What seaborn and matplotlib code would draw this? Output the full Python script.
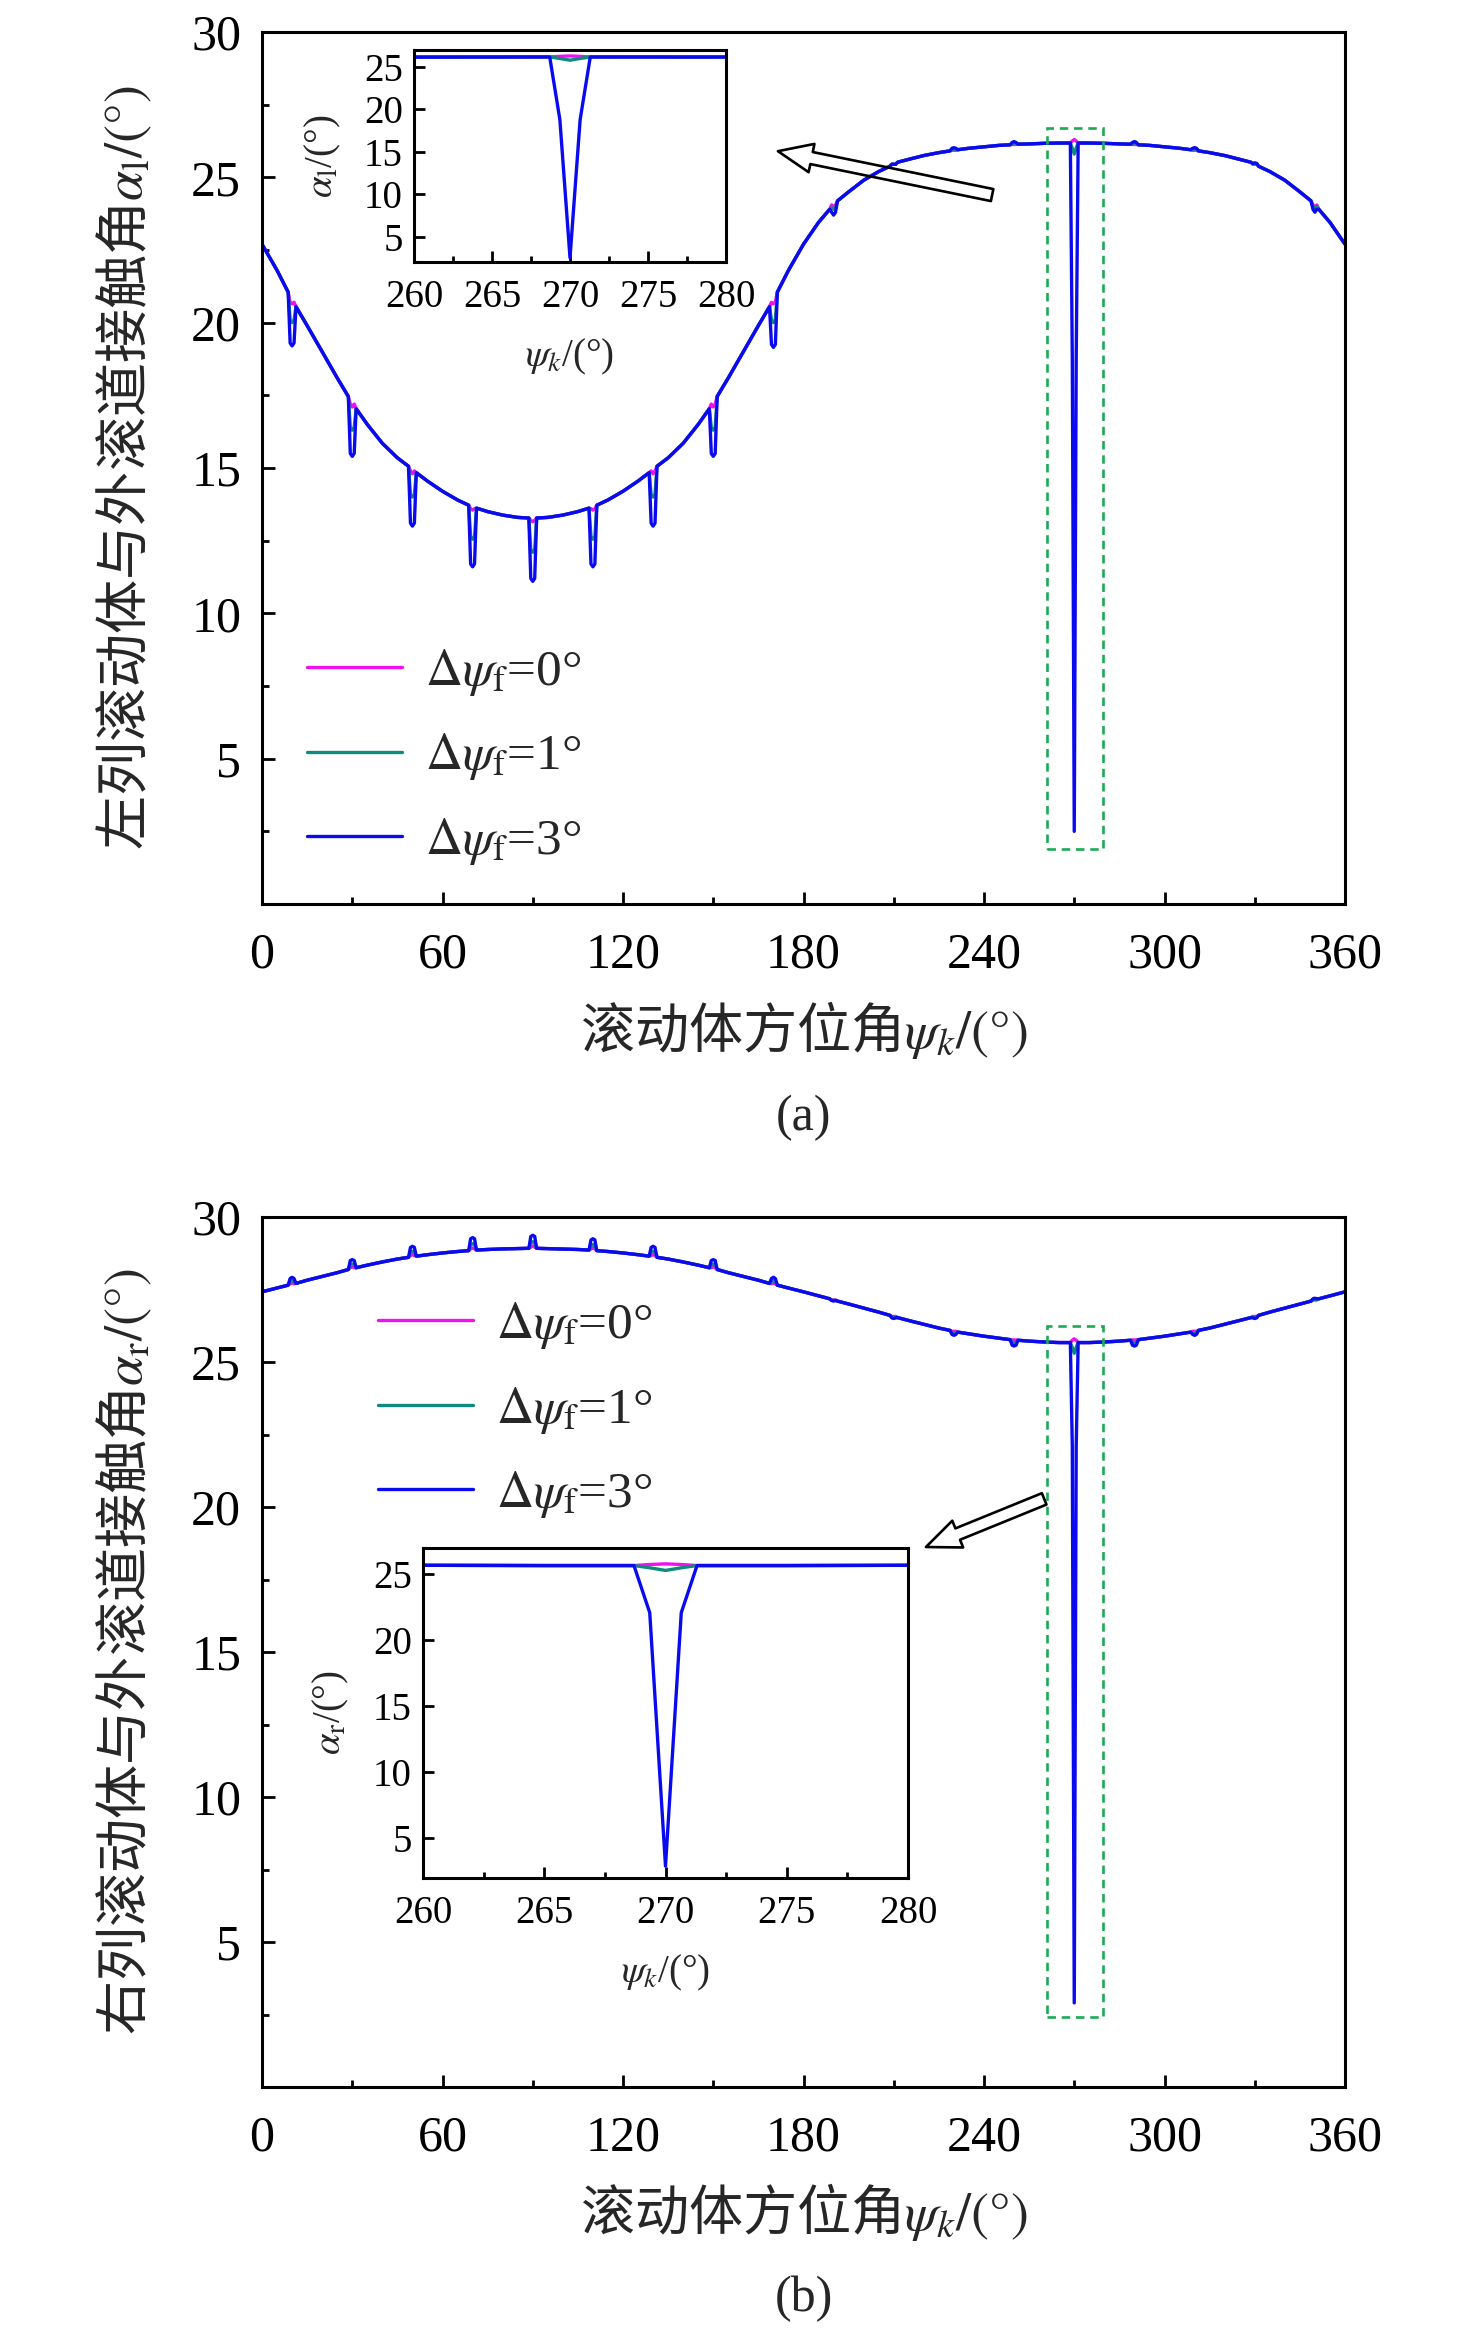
import matplotlib
matplotlib.use("Agg")
import matplotlib.pyplot as plt
import numpy as np
import pandas as pd
import seaborn as sns
from matplotlib.ticker import MultipleLocator
from matplotlib.patches import Rectangle

# ---------------- data ----------------
psi_grid = list(range(0, 365, 5))

alpha_l_base = [22.70, 21.80, 20.80, 19.90, 19.00, 18.10, 17.25, 16.50, 15.85, 15.35,
                14.95, 14.55, 14.20, 13.90, 13.67, 13.50, 13.38, 13.30, 13.28, 13.30,
                13.38, 13.50, 13.67, 13.90, 14.20, 14.55, 14.95, 15.35, 15.85, 16.50,
                17.25, 18.10, 19.00, 19.90, 20.80, 21.80, 22.70, 23.45, 24.05, 24.50,
                24.90, 25.20, 25.45, 25.62, 25.75, 25.85, 25.93, 26.00, 26.05, 26.10,
                26.13, 26.15, 26.17, 26.18, 26.18, 26.18, 26.17, 26.15, 26.13, 26.10,
                26.05, 26.00, 25.93, 25.85, 25.75, 25.62, 25.45, 25.20, 24.90, 24.50,
                24.05, 23.45, 22.70]

alpha_r_base = [27.42, 27.55, 27.68, 27.82, 27.95, 28.08, 28.22, 28.34, 28.45, 28.55,
                28.63, 28.70, 28.76, 28.81, 28.85, 28.88, 28.90, 28.91, 28.92, 28.91,
                28.90, 28.88, 28.85, 28.81, 28.76, 28.70, 28.63, 28.55, 28.45, 28.34,
                28.22, 28.08, 27.95, 27.82, 27.68, 27.55, 27.42, 27.28, 27.14, 27.00,
                26.86, 26.72, 26.57, 26.43, 26.30, 26.17, 26.06, 25.97, 25.89, 25.82,
                25.76, 25.72, 25.69, 25.67, 25.67, 25.67, 25.69, 25.72, 25.76, 25.82,
                25.89, 25.97, 26.06, 26.17, 26.30, 26.43, 26.57, 26.72, 26.86, 27.00,
                27.14, 27.28, 27.42]

# rolling-element positions where the contact angle jumps
roller_pos = [10, 30, 50, 70, 90, 110, 130, 150, 170,
              190, 210, 230, 250, 270, 290, 310, 330, 350]

# undisturbed curve just before / after each roller position
al_edge_lo = [21.05, 17.46, 15.06, 13.72, 13.28, 13.62, 14.84, 17.04, 20.55,
              23.90, 25.38, 25.91, 26.12, 26.18, 26.14, 25.95, 25.52, 24.19]
al_edge_hi = [20.55, 17.04, 14.84, 13.62, 13.28, 13.72, 15.06, 17.46, 21.05,
              24.19, 25.52, 25.95, 26.14, 26.18, 26.12, 25.91, 25.38, 23.90]
ar_edge_lo = [27.65, 28.19, 28.61, 28.84, 28.92, 28.86, 28.65, 28.25, 27.71,
              27.18, 26.61, 26.09, 25.77, 25.67, 25.75, 26.03, 26.53, 27.10]
ar_edge_hi = [27.71, 28.25, 28.65, 28.86, 28.92, 28.84, 28.61, 28.19, 27.65,
              27.10, 26.53, 26.03, 25.75, 25.67, 25.77, 26.09, 26.61, 27.18]

# left row: value at the roller position (tip) and next to it (flank)
al_tip_0 = [20.65, 17.10, 14.80, 13.55, 13.15, 13.55, 14.80, 17.10, 20.65,
            24.00, 25.45, 25.93, 26.13, 26.30, 26.13, 25.93, 25.45, 24.00]
al_flank_0 = [20.70, 17.20, 14.90, 13.60, 13.20, 13.60, 14.90, 17.20, 20.70,
              24.05, 25.45, 25.93, 26.13, 26.25, 26.13, 25.93, 25.45, 24.05]
al_tip_1 = [20.00, 16.30, 14.00, 12.55, 12.10, 12.55, 14.00, 16.30, 20.00,
            23.90, 25.45, 25.98, 26.18, 25.80, 26.18, 25.98, 25.47, 23.95]
al_flank_1 = [20.10, 16.40, 14.10, 12.65, 12.20, 12.65, 14.10, 16.40, 20.10,
              23.95, 25.45, 25.96, 26.16, 26.00, 26.16, 25.96, 25.46, 24.00]
al_tip_3 = [19.20, 15.40, 13.00, 11.60, 11.10, 11.60, 13.00, 15.40, 19.15,
            23.70, 25.45, 26.02, 26.23, 2.50, 26.23, 26.02, 25.50, 23.80]
al_flank_3 = [19.30, 15.50, 13.10, 11.70, 11.20, 11.70, 13.10, 15.50, 19.25,
              23.80, 25.45, 26.00, 26.20, 18.80, 26.20, 26.00, 25.48, 23.90]

# right row
ar_tip_0 = [27.72, 28.28, 28.70, 28.93, 29.00, 28.93, 28.70, 28.28, 27.72,
            27.14, 26.57, 26.06, 25.76, 25.80, 25.76, 26.06, 26.57, 27.14]
ar_flank_0 = [27.70, 28.25, 28.67, 28.90, 28.96, 28.90, 28.67, 28.25, 27.70,
              27.14, 26.57, 26.06, 25.76, 25.75, 25.76, 26.06, 26.57, 27.14]
ar_tip_1 = [27.80, 28.38, 28.82, 29.08, 29.15, 29.05, 28.82, 28.38, 27.80,
            27.12, 26.55, 25.98, 25.65, 25.30, 25.65, 25.98, 26.55, 27.16]
ar_flank_1 = [27.78, 28.35, 28.78, 29.04, 29.10, 29.00, 28.78, 28.35, 27.78,
              27.13, 26.56, 26.00, 25.68, 25.50, 25.68, 26.00, 26.56, 27.15]
ar_tip_3 = [27.92, 28.53, 28.99, 29.29, 29.37, 29.25, 28.99, 28.53, 27.92,
            27.10, 26.50, 25.92, 25.55, 2.90, 25.55, 25.92, 26.50, 27.20]
ar_flank_3 = [27.88, 28.50, 28.95, 29.25, 29.33, 29.21, 28.95, 28.50, 27.88,
              27.12, 26.52, 25.95, 25.58, 22.10, 25.58, 25.95, 26.52, 27.18]

series_labels = [r'$\Delta\psi_{\mathrm{f}}$=0°', r'$\Delta\psi_{\mathrm{f}}$=1°',
                 r'$\Delta\psi_{\mathrm{f}}$=3°']
series_colors = ['#F010F0', '#0E8A7E', '#0A0AF0']

x_ticks = [0, 60, 120, 180, 240, 300, 360]
y_ticks = [5, 10, 15, 20, 25, 30]
inset_x_ticks = [260, 265, 270, 275, 280]
inset_y_ticks = [5, 10, 15, 20, 25]

# ---------------- helpers ----------------
def build_series(base, edge_lo, edge_hi, tips, flanks, label):
    xs, ys = [], []
    for p, b in zip(psi_grid, base):
        if p in roller_pos:
            i = roller_pos.index(p)
            xs += [p - 1.3, p - 0.65, p, p + 0.65, p + 1.3]
            ys += [edge_lo[i], flanks[i], tips[i], flanks[i], edge_hi[i]]
        else:
            xs.append(p)
            ys.append(b)
    return pd.DataFrame({'psi': xs, 'alpha': ys, 'series': label})


df_a = pd.concat([
    build_series(alpha_l_base, al_edge_lo, al_edge_hi, al_tip_0, al_flank_0, series_labels[0]),
    build_series(alpha_l_base, al_edge_lo, al_edge_hi, al_tip_1, al_flank_1, series_labels[1]),
    build_series(alpha_l_base, al_edge_lo, al_edge_hi, al_tip_3, al_flank_3, series_labels[2])],
    ignore_index=True)
df_b = pd.concat([
    build_series(alpha_r_base, ar_edge_lo, ar_edge_hi, ar_tip_0, ar_flank_0, series_labels[0]),
    build_series(alpha_r_base, ar_edge_lo, ar_edge_hi, ar_tip_1, ar_flank_1, series_labels[1]),
    build_series(alpha_r_base, ar_edge_lo, ar_edge_hi, ar_tip_3, ar_flank_3, series_labels[2])],
    ignore_index=True)

# ---------------- style ----------------
sns.set_theme(style='ticks')
plt.rcParams['font.family'] = ['Liberation Serif', 'Noto Sans CJK SC', 'DejaVu Sans']
plt.rcParams['mathtext.fontset'] = 'stix'
plt.rcParams['axes.linewidth'] = 2.2
plt.rcParams['axes.edgecolor'] = 'black'

W, H = 1476, 2330
fig = plt.figure(figsize=(W / 100, H / 100), dpi=100)
fig.patch.set_facecolor('white')


def frac(l, t, r, b):
    return [l / W, 1 - b / H, (r - l) / W, (b - t) / H]


ax_a = fig.add_axes(frac(262, 32, 1345, 904))
ax_b = fig.add_axes(frac(262, 1217, 1345, 2087))
ins_a = fig.add_axes(frac(414, 50, 726, 262))
ins_b = fig.add_axes(frac(423, 1548, 908, 1878))

pal = dict(zip(series_labels, series_colors))
cjk = ['Noto Sans CJK SC']


def draw(ax, df, lw):
    sns.lineplot(data=df, x='psi', y='alpha', hue='series', hue_order=series_labels,
                 palette=pal, estimator=None, sort=False, legend=False,
                 linewidth=lw, ax=ax)


def style_main(ax):
    ax.set_xlim(0, 360)
    ax.set_ylim(0, 30)
    ax.set_xticks(x_ticks)
    ax.set_yticks(y_ticks)
    ax.xaxis.set_minor_locator(MultipleLocator(30))
    ax.yaxis.set_minor_locator(MultipleLocator(2.5))
    ax.tick_params(which='both', direction='in', top=False, right=False, width=2.0,
                   colors='black')
    ax.tick_params(which='major', length=9)
    ax.tick_params(which='minor', length=5)
    ax.tick_params(axis='x', which='major', labelsize=36, pad=20)
    ax.tick_params(axis='y', which='major', labelsize=36, pad=15)
    for s in ax.spines.values():
        s.set_visible(True)
        s.set_linewidth(2.2)
        s.set_color('black')
    ax.set_facecolor('white')


def style_inset(ax):
    ax.set_xlim(260, 280)
    ax.set_ylim(2, 27)
    ax.set_xticks(inset_x_ticks)
    ax.set_yticks(inset_y_ticks)
    ax.xaxis.set_minor_locator(MultipleLocator(2.5))
    ax.tick_params(which='both', direction='in', top=False, right=False, width=2.0,
                   colors='black')
    ax.tick_params(axis='y', which='minor', left=False)
    ax.tick_params(which='major', length=8)
    ax.tick_params(which='minor', length=4.5)
    ax.tick_params(axis='x', which='major', labelsize=28, pad=12)
    ax.tick_params(axis='y', which='major', labelsize=28, pad=8)
    for s in ax.spines.values():
        s.set_visible(True)
        s.set_linewidth(2.2)
        s.set_color('black')
    ax.set_facecolor('white')


for ax, df in [(ax_a, df_a), (ax_b, df_b)]:
    draw(ax, df, 2.4)
    style_main(ax)
for ax, df in [(ins_a, df_a), (ins_b, df_b)]:
    draw(ax, df, 2.4)
    style_inset(ax)

# axis labels
ax_a.set_ylabel('左列滚动体与外滚道接触角' + r'$\alpha_{\mathrm{l}}\mathrm{/(°)}$',
                fontsize=39, family=cjk, va='center')
ax_b.set_ylabel('右列滚动体与外滚道接触角' + r'$\alpha_{\mathrm{r}}\mathrm{/(°)}$',
                fontsize=39, family=cjk, va='center')
for ax in (ax_a, ax_b):
    ax.set_xlabel('滚动体方位角' + r'$\psi_{k}\mathrm{/(°)}$', fontsize=39, family=cjk,
                  va='center')
    ax.yaxis.set_label_coords(-0.127, 0.5)
ax_a.xaxis.set_label_coords(0.5, (904 - 1030) / 872)
ax_b.xaxis.set_label_coords(0.5, (2087 - 2212) / 870)

ins_a.set_ylabel(r'$\alpha_{\mathrm{l}}$/(°)', fontsize=28, va='center')
ins_b.set_ylabel(r'$\alpha_{\mathrm{r}}$/(°)', fontsize=28, va='center')
for ax in (ins_a, ins_b):
    ax.set_xlabel(r'$\psi_{k}$/(°)', fontsize=28, va='center')
ins_a.yaxis.set_label_coords((323 - 414) / 312, 0.5)
ins_a.xaxis.set_label_coords(0.5, (262 - 357) / 212)
ins_b.yaxis.set_label_coords((331 - 423) / 485, 0.5)
ins_b.xaxis.set_label_coords(0.5, (1878 - 1973) / 330)

# legends
for ax, anchor in [(ax_a, ((307 - 262) / 1083, (904 - 757) / 872)),
                   (ax_b, ((378 - 262) / 1083, (2087 - 1410) / 870))]:
    handles = ax.get_lines()[:3]
    ax.legend(handles, series_labels, loc='center left', bbox_to_anchor=anchor,
              frameon=False, fontsize=37, handlelength=1.85, handletextpad=0.45,
              labelspacing=0.66, borderpad=0, borderaxespad=0)

# dashed boxes around the 270 degree dip
ax_a.add_patch(Rectangle((261, 1.9), 18.7, 24.8, fill=False, ec='#1DAA55', lw=1.9,
                         ls=(0, (3.2, 2.2)), zorder=4))
ax_b.add_patch(Rectangle((261, 2.4), 18.7, 23.85, fill=False, ec='#1DAA55', lw=1.9,
                         ls=(0, (3.2, 2.2)), zorder=4))

# hollow arrows pointing to the insets
arrow_kw = dict(arrowstyle='simple,head_length=0.95,head_width=0.8,tail_width=0.34',
                fc='none', ec='black', lw=1.9, shrinkA=0, shrinkB=0,
                mutation_scale=26)
ax_a.annotate('', xy=(171.5, 25.9), xytext=(242.7, 24.39), arrowprops=arrow_kw,
              zorder=5)
ax_b.annotate('', xy=(220.7, 18.62), xytext=(260.0, 20.28), arrowprops=arrow_kw,
              zorder=5)

# captions
fig.text(804 / W, 1 - 1118 / H, '(a)', fontsize=36, ha='center', va='center')
fig.text(804 / W, 1 - 2299 / H, '(b)', fontsize=36, ha='center', va='center')

fig.savefig('out.png', dpi=100, facecolor='white')
